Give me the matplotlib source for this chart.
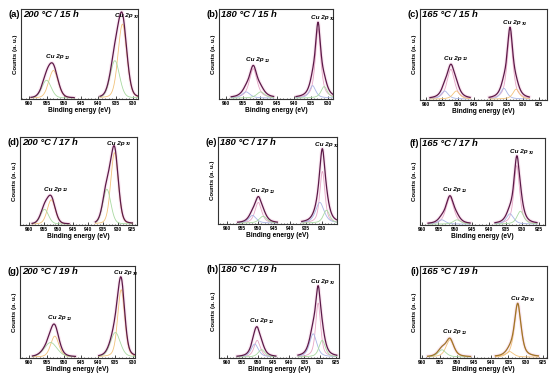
import numpy as np
import matplotlib
matplotlib.use("Agg")
import matplotlib.pyplot as plt
from matplotlib.ticker import MultipleLocator

plt.rcParams['font.family'] = ['Liberation Sans', 'DejaVu Sans']

# panel letters and conditions
letters = ["a", "b", "c", "d", "e", "f", "g", "h", "i"]
conditions = ["200 °C / 15 h", "180 °C / 15 h", "165 °C / 15 h",
              "200 °C / 17 h", "180 °C / 17 h", "165 °C / 17 h",
              "200 °C / 19 h", "180 °C / 19 h", "165 °C / 19 h"]

# x-axis window (high BE on the left) and tick labels shown
xlims = [(962.4, 928.5), (962.0, 928.4), (961.9, 922.4),
         (963.0, 923.4), (962.7, 925.2), (960.5, 923.3),
         (962.7, 929.3), (962.5, 923.9), (960.7, 923.8)]
tick_ends = [930, 930, 925, 925, 930, 925, 930, 925, 925]

# Lorentzian fraction of the pseudo-Voigt line shape per panel
eta = [0.2, 0.7, 0.7, 0.2, 0.6, 0.6, 0.3, 0.6, 0.6]

# fitted components: (centre eV, height, fwhm eV, colour key)
comp_32 = [
    [(933.0, 0.83, 3.0, "or"), (935.2, 0.42, 3.2, "gr")],
    [(932.8, 0.78, 1.9, "pk"), (934.4, 0.14, 2.2, "bl"), (931.0, 0.13, 2.2, "gr")],
    [(933.9, 0.74, 2.1, "pk"), (935.8, 0.12, 2.4, "bl"), (932.0, 0.11, 2.4, "or")],
    [(931.0, 0.82, 3.0, "or"), (933.6, 0.40, 3.2, "gr")],
    [(929.8, 0.60, 1.9, "pk"), (930.6, 0.24, 3.2, "bl"), (928.5, 0.15, 2.4, "gr")],
    [(931.7, 0.68, 2.0, "pk"), (933.7, 0.12, 2.6, "bl"), (930.6, 0.15, 2.4, "gr")],
    [(933.3, 0.74, 2.4, "or"), (935.0, 0.27, 3.4, "gr")],
    [(930.6, 0.58, 1.9, "pk"), (932.2, 0.25, 2.8, "bl"), (929.3, 0.18, 2.4, "gr")],
    [(932.3, 0.58, 2.3, "or"), (934.6, 0.06, 2.6, "or")],
]
comp_12 = [
    [(953.0, 0.31, 3.2, "or"), (955.0, 0.20, 3.2, "gr")],
    [(951.9, 0.33, 2.7, "pk"), (954.0, 0.07, 2.8, "bl"), (949.7, 0.07, 2.8, "gr")],
    [(952.3, 0.33, 2.8, "pk"), (954.2, 0.09, 2.6, "bl"), (950.6, 0.09, 2.6, "or")],
    [(952.4, 0.28, 3.2, "or"), (954.7, 0.17, 3.2, "gr")],
    [(950.0, 0.24, 2.5, "pk"), (951.8, 0.09, 2.8, "bl"), (948.5, 0.08, 2.8, "gr")],
    [(951.6, 0.31, 2.8, "pk"), (954.0, 0.05, 2.6, "bl"), (949.5, 0.05, 2.6, "gr")],
    [(952.6, 0.23, 2.8, "or"), (953.8, 0.16, 4.4, "gr")],
    [(950.2, 0.18, 2.4, "pk"), (951.0, 0.14, 2.8, "bl"), (948.8, 0.08, 2.6, "gr")],
    [(952.0, 0.19, 2.7, "or"), (954.3, 0.08, 2.8, "gr")],
]

colors = {"or": "#f2c27a", "gr": "#a9d9a1", "bl": "#a9b6e6", "pk": "#e7a6c6"}
env_colors = ["#5c1a48"] * 8 + ["#a0742a"]

# axes boxes in pixels: left, top, right, bottom
boxes = [(21, 9, 138, 99), (219, 9, 333, 99), (420, 9, 547, 100),
         (20, 137, 137, 225), (218, 137, 337, 224), (420, 138, 545, 225),
         (20, 266, 135, 358), (219, 264, 339, 358), (420, 266, 547, 358)]

W, H = 550, 381


def pvoigt(x, c, h, w, m):
    g = np.exp(-4 * np.log(2) * ((x - c) / w) ** 2)
    l = 1.0 / (1 + (2 * (x - c) / w) ** 2)
    return h * (m * l + (1 - m) * g)


def draw_band(ax, comps, m, env_col, lo, hi):
    x = np.linspace(lo, hi, 300)
    env = np.zeros_like(x)
    for c, h, w, k in comps:
        y = pvoigt(x, c, h, w, m)
        env += y
        ax.plot(x, y, color=colors[k], lw=0.6, zorder=2)
    ax.plot(x, env, color="#f6d3e6", lw=2.5, alpha=0.5, zorder=1)
    ax.plot(x, env, color=env_col, lw=0.9, zorder=3)
    return env.max()


def cu_label(ax, x, y, sub):
    t = ax.text(x, y, "Cu 2p", fontsize=4.6, fontweight="bold",
                fontstyle="italic", ha="center", va="bottom")
    ax.annotate(sub, xy=(1.0, 0.0), xycoords=t, xytext=(1, -0.5),
                textcoords="offset points", fontsize=2.6, fontweight="bold",
                fontstyle="italic", va="bottom")


fig = plt.figure(figsize=(W / 100, H / 100), dpi=100)

for i in range(9):
    l, t, r, b = boxes[i]
    ax = fig.add_axes([l / W, 1 - b / H, (r - l) / W, (b - t) / H])
    x0, x1 = xlims[i]
    ax.set_xlim(x0, x1)
    ax.set_ylim(-0.01, 1.0)

    c32 = comp_32[i][0][0]
    c12 = comp_12[i][0][0]
    p32 = draw_band(ax, comp_32[i], eta[i], env_colors[i], c32 - 6, c32 + 6.5)
    p12 = draw_band(ax, comp_12[i], eta[i], env_colors[i], c12 - 6, c12 + 6.5)
    cu_label(ax, c32 - 0.5, min(p32 + 0.02, 0.9), "3/2")
    cu_label(ax, c12 - 0.5, p12 + 0.04, "1/2")

    ax.set_xticks(np.arange(960, tick_ends[i] - 1, -5))
    ax.xaxis.set_minor_locator(MultipleLocator(1))
    ax.tick_params(axis="x", which="major", direction="in", length=2,
                   width=0.5, labelsize=3.6, pad=1.5)
    ax.tick_params(axis="x", which="minor", direction="in", length=1,
                   width=0.4)
    for lab in ax.get_xticklabels():
        lab.set_fontweight("bold")
    ax.set_yticks([])
    for s in ax.spines.values():
        s.set_linewidth(0.8)
        s.set_color("#333333")

    ax.set_xlabel("Binding energy (eV)", fontsize=4.8, fontweight="bold",
                  labelpad=1)
    ax.set_ylabel("Counts (a. u.)", fontsize=4.4, fontweight="bold",
                  labelpad=2)
    ax.text(0.015, 0.985, conditions[i], transform=ax.transAxes, fontsize=6.8,
            fontweight="bold", fontstyle="italic", ha="left", va="top")
    ax.text(-0.005, 0.985, "(%s)" % letters[i], transform=ax.transAxes,
            fontsize=6.8, fontweight="bold", ha="right", va="top")

fig.savefig("out.png", dpi=100)
